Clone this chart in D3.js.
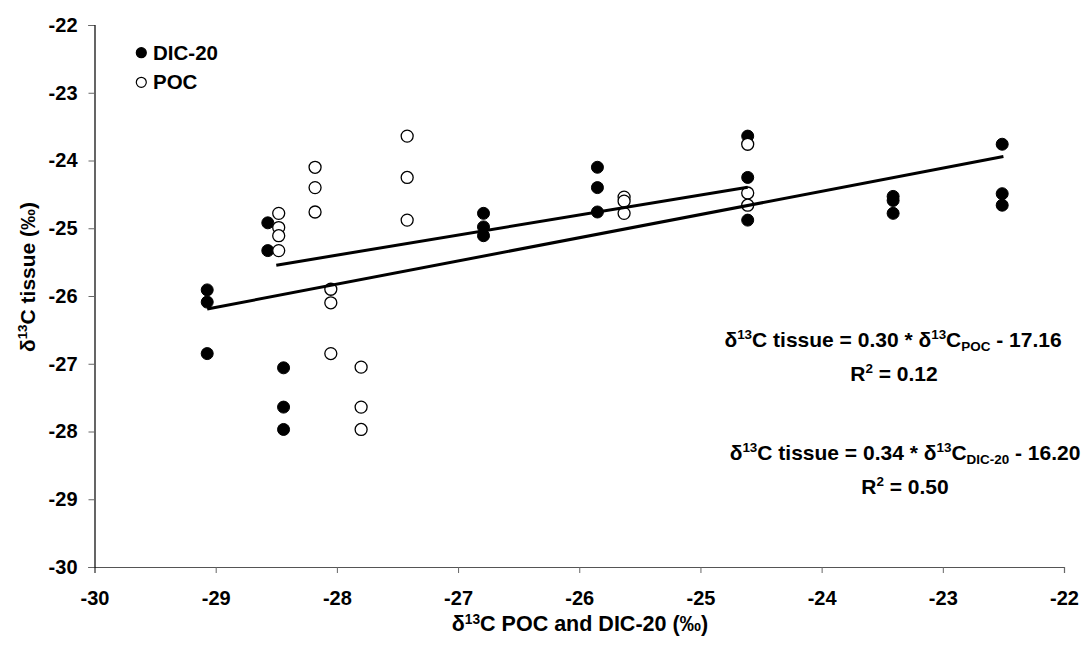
<!DOCTYPE html>
<html>
<head>
<meta charset="utf-8">
<script src="https://cdn.jsdelivr.net/npm/d3@7"></script>
<style>
  html, body { margin: 0; padding: 0; background: #fff; }
  svg { display: block; font-family: "Liberation Sans", Arial, sans-serif; font-weight: bold; }
</style>
</head>
<body>
<svg id="chart" width="1084" height="650"></svg>
<script>
// ---- data ----
const dicX = [-29.07, -29.07, -29.07, -28.57, -28.57, -28.44, -28.44, -28.44,
              -26.79, -26.79, -26.79, -25.85, -25.85, -25.85, -24.61, -24.61, -24.61,
              -23.41, -23.41, -23.41, -22.51, -22.51, -22.51];
const dicY = [-25.91, -26.09, -26.85, -24.92, -25.33, -27.06, -27.64, -27.97,
              -24.78, -24.98, -25.11, -24.10, -24.40, -24.76, -23.64, -24.25, -24.88,
              -24.53, -24.59, -24.78, -23.76, -24.49, -24.66];
const pocX = [-28.48, -28.48, -28.48, -28.48, -28.18, -28.18, -28.18,
              -27.42, -27.42, -27.42, -28.05, -28.05, -28.05, -27.80, -27.80, -27.80,
              -25.63, -25.63, -25.63, -24.61, -24.61, -24.61];
const pocY = [-24.78, -24.99, -25.11, -25.33, -24.10, -24.40, -24.76,
              -23.64, -24.25, -24.88, -25.90, -26.10, -26.85, -27.05, -27.64, -27.97,
              -24.54, -24.60, -24.78, -23.76, -24.48, -24.66];
// trend lines: [slope, intercept, xStart, xEnd]
const pocFit = [0.2956, -17.12, -28.50, -24.61];
const dicFit = [0.3427, -16.23, -29.07, -22.50];
const xTicks = [-30, -29, -28, -27, -26, -25, -24, -23, -22];
const yTicks = [-30, -29, -28, -27, -26, -25, -24, -23, -22];
const seriesNames = ["DIC-20", "POC"];

// ---- layout ----
const svg = d3.select("#chart");
const mLeft = 94.5, mRight = 1064, mTop = 25, mBottom = 567;
const x = d3.scaleLinear().domain([-30, -22]).range([mLeft, mRight]);
const y = d3.scaleLinear().domain([-30, -22]).range([mBottom, mTop]);
const fmt = d => String(d);

// axes
const xAxis = svg.append("g").attr("transform", `translate(0,${mBottom})`)
  .call(d3.axisBottom(x).tickValues(xTicks).tickFormat(fmt).tickSizeOuter(0).tickSize(6).tickPadding(18));
xAxis.select(".domain").attr("stroke", "#555").attr("stroke-width", 1.2);
xAxis.selectAll(".tick line").attr("stroke", "#666");
xAxis.selectAll(".tick text").attr("font-size", 20).attr("font-weight", "bold")
  .attr("font-family", "Liberation Sans, Arial, sans-serif").attr("fill", "#000");

const yAxis = svg.append("g").attr("transform", `translate(${mLeft},0)`)
  .call(d3.axisLeft(y).tickValues(yTicks).tickFormat(fmt).tickSizeOuter(0).tickSize(6).tickPadding(11));
yAxis.select(".domain").attr("stroke", "#000").attr("stroke-width", 1.2);
yAxis.selectAll(".tick line").attr("stroke", "#666");
yAxis.selectAll(".tick text").attr("font-size", 20).attr("font-weight", "bold")
  .attr("font-family", "Liberation Sans, Arial, sans-serif").attr("fill", "#000");

// points: DIC filled first, POC open on top
svg.append("g").selectAll("circle").data(dicX.map((v, i) => [v, dicY[i]])).join("circle")
  .attr("cx", d => x(d[0])).attr("cy", d => y(d[1])).attr("r", 6)
  .attr("fill", "#000").attr("stroke", "#000").attr("stroke-width", 1);
svg.append("g").selectAll("circle").data(pocX.map((v, i) => [v, pocY[i]])).join("circle")
  .attr("cx", d => x(d[0])).attr("cy", d => y(d[1])).attr("r", 6)
  .attr("fill", "#fff").attr("stroke", "#000").attr("stroke-width", 1.3);

// trend lines
const line = d3.line().x(d => x(d[0])).y(d => y(d[1]));
[pocFit, dicFit].forEach(f => {
  const pts = [[f[2], f[0] * f[2] + f[1]], [f[3], f[0] * f[3] + f[1]]];
  svg.append("path").attr("d", line(pts)).attr("stroke", "#000").attr("stroke-width", 3).attr("fill", "none");
});

// legend
const leg = svg.append("g");
seriesNames.forEach((n, i) => {
  const cy = 52.7 + i * 29.6;
  leg.append("circle").attr("cx", 141.3).attr("cy", cy).attr("r", 5)
    .attr("fill", i === 0 ? "#000" : "#fff").attr("stroke", "#000").attr("stroke-width", 1.2);
  leg.append("text").attr("x", 153).attr("y", cy + 7).attr("font-size", 20.5).text(n);
});

// equations
function eq(cx, yb, slope, sub, icpt) {
  const t = svg.append("text").attr("x", cx).attr("y", yb).attr("text-anchor", "middle").attr("font-size", 21);
  t.append("tspan").text("δ");
  t.append("tspan").attr("font-size", "0.64em").attr("dy", -8).text("13");
  t.append("tspan").attr("dy", 8).text("C tissue = " + slope + " * δ");
  t.append("tspan").attr("font-size", "0.64em").attr("dy", -8).text("13");
  t.append("tspan").attr("dy", 8).text("C");
  t.append("tspan").attr("font-size", "0.64em").attr("dy", 4).text(sub);
  t.append("tspan").attr("dy", -4).text(" - " + icpt);
}
function r2(cx, yb, val) {
  const t = svg.append("text").attr("x", cx).attr("y", yb).attr("text-anchor", "middle").attr("font-size", 21);
  t.append("tspan").text("R");
  t.append("tspan").attr("font-size", "0.64em").attr("dy", -8).text("2");
  t.append("tspan").attr("dy", 8).text(" = " + val);
}
eq(893, 347, "0.30", "POC", "17.16");
r2(894, 381, "0.12");
eq(905, 460, "0.34", "DIC-20", "16.20");
r2(905, 494, "0.50");

// axis titles
const xt = svg.append("text").attr("x", 580).attr("y", 631).attr("text-anchor", "middle").attr("font-size", 21.5);
xt.append("tspan").text("δ");
xt.append("tspan").attr("font-size", "0.64em").attr("dy", -7).text("13");
xt.append("tspan").attr("dy", 7).text("C POC and DIC-20 (‰)");

const yt = svg.append("text").attr("transform", "translate(35,277) rotate(-90)").attr("text-anchor", "middle").attr("font-size", 21);
yt.append("tspan").text("δ");
yt.append("tspan").attr("font-size", "0.64em").attr("dy", -8).text("13");
yt.append("tspan").attr("dy", 8).text("C tissue (‰)");
</script>
</body>
</html>
